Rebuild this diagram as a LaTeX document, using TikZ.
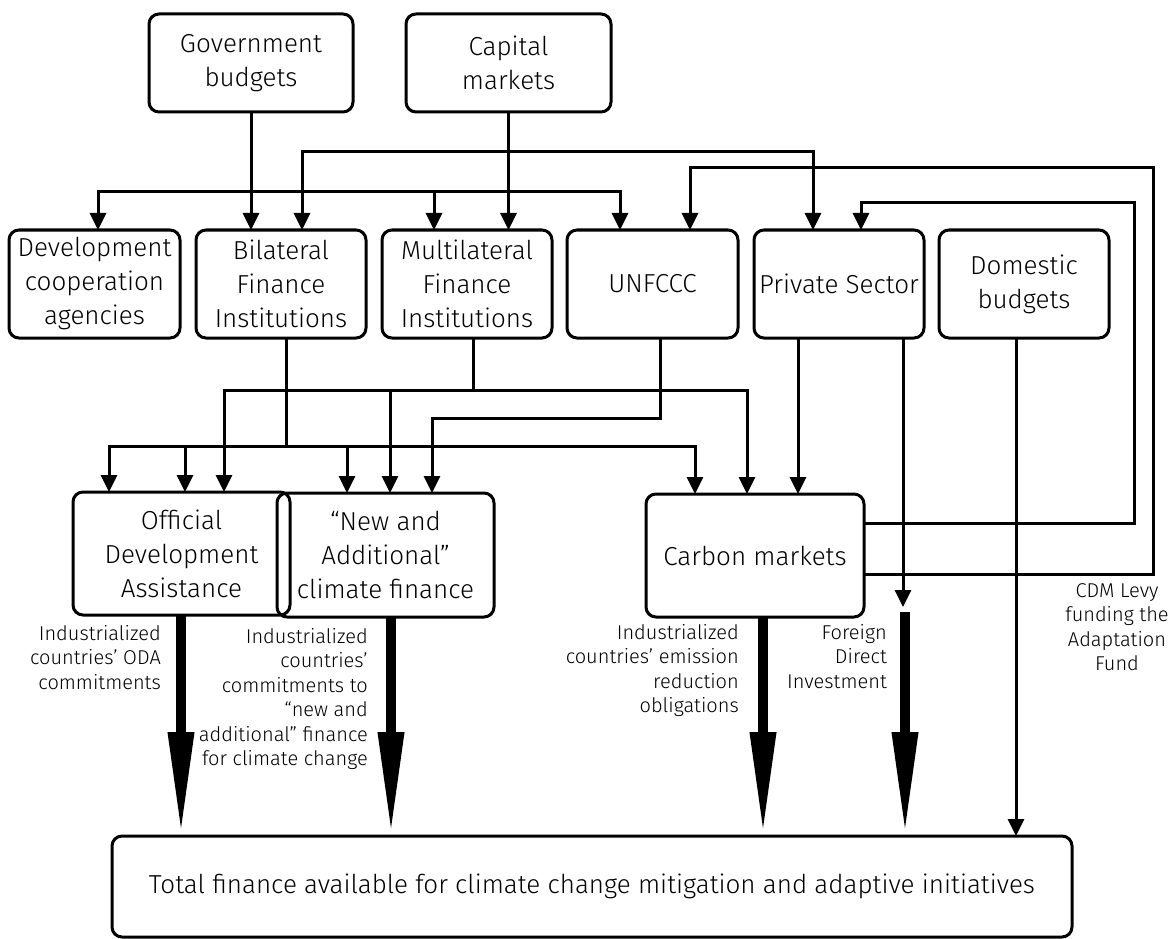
\documentclass[tikz,border=0pt]{standalone}
\usepackage{fontspec}
\setmainfont{Fira Sans Light}
\usetikzlibrary{arrows.meta,calc}
\tikzset{
  box/.style={draw, line width=3pt, rounded corners=10pt, inner sep=0pt, outer sep=0pt,
    align=center, font=\fontsize{26}{34}\selectfont},
  conn/.style={line width=3pt, -{Triangle[width=16pt,length=17pt]}},
  connboth/.style={line width=3pt, {Triangle[width=16pt,length=17pt]}-{Triangle[width=16pt,length=17pt]}},
  plain/.style={line width=3pt},
  big/.style={line width=10pt, -{Triangle[width=24pt,length=104pt]}},
  lab/.style={inner sep=0pt, font=\fontsize{20}{24.5}\selectfont},
}
\begin{document}
\begin{tikzpicture}[x=1pt,y=-1pt]
\useasboundingbox (0,0) rectangle (1171,939);
% top row
\node[box, minimum width=204pt, minimum height=98pt] (gov) at (251,63) {Government\\budgets};
\node[box, minimum width=205pt, minimum height=98pt] (cap) at (508.5,63) {Capital\\markets};
% second row
\node[box, minimum width=171pt, minimum height=108pt] (dev) at (94.5,284) {Development\\cooperation\\agencies};
\node[box, minimum width=170pt, minimum height=108pt] (bil) at (281,284) {Bilateral\\Finance\\Institutions};
\node[box, minimum width=170pt, minimum height=108pt] (mul) at (467,284) {Multilateral\\Finance\\Institutions};
\node[box, minimum width=171pt, minimum height=108pt] (unf) at (652.5,284) {UNFCCC};
\node[box, minimum width=170pt, minimum height=108pt] (pri) at (839,284) {Private Sector};
\node[box, minimum width=170pt, minimum height=108pt] (dom) at (1024,284) {Domestic\\budgets};
% third row
\node[box, minimum width=217pt, minimum height=123pt] (oda) at (181.5,553.5) {Official\\Development\\Assistance};
\node[box, minimum width=217pt, minimum height=124pt] (naf) at (385.5,555) {“New and\\Additional”\\climate finance};
\node[box, minimum width=218pt, minimum height=123pt] (car) at (755,555.5) {Carbon markets};
% bottom
\node[box, minimum width=960pt, minimum height=101pt] (tot) at (592,886.5) {Total finance available for climate change mitigation and adaptive initiatives};

% top connectors
\draw[conn] (gov.south) -- (gov.south |- bil.north);
\draw[conn] (cap.south) -- (cap.south |- mul.north);
\draw[connboth] ([xshift=21pt]bil.north) -- ++(0,-78) -| ([xshift=-26pt]pri.north);
\draw[connboth] ([xshift=3.5pt]dev.north) -- ++(0,-38) -| ([xshift=-32.5pt]unf.north);
\draw[conn] ([xshift=-33pt,yshift=38pt]mul.north) -- ([xshift=-33pt]mul.north);
% carbon markets feedback loops
\draw[conn] ([yshift=-18.5pt]car.east) -| (1153.5,168) -| ([xshift=37.5pt]unf.north);
\draw[conn] ([yshift=32.5pt]car.east) -| (1134,203) -| ([xshift=22pt]pri.north);

% bilateral bus (y=446)
\draw[plain] ([xshift=5pt]bil.south) -- ++(0,108);
\draw[connboth] ([xshift=-72.5pt]oda.north) -- ++(0,-46) -| ([xshift=-60pt]car.north);
\draw[conn] ([xshift=3.5pt,yshift=46pt]oda.north) -- ([xshift=3.5pt]oda.north);
\draw[conn] ([xshift=-38.5pt,yshift=47pt]naf.north) -- ([xshift=-38.5pt]naf.north);
% multilateral bus (y=390)
\draw[plain] ([xshift=6pt]mul.south) -- ++(0,51);
\draw[connboth] ([xshift=42.5pt]oda.north) -- ++(0,-102) -| ([xshift=-8pt]car.north);
\draw[conn] ([xshift=4.5pt,yshift=103pt]naf.north) -- ([xshift=4.5pt]naf.north);
% UNFCCC
\draw[conn] ([xshift=7.5pt]unf.south) |- (432,418) -- ([xshift=46.5pt]naf.north);
% private sector
\draw[conn] ([xshift=-41pt]pri.south) -- ([xshift=-41pt]pri.south |- car.north);
\coordinate (fdi) at (903,607);
\draw[conn] ([xshift=64pt]pri.south) -- (fdi);
% domestic
\draw[conn] ([xshift=-8pt]dom.south) -- ([xshift=-8pt]dom.south |- tot.north);

% big arrows
\draw[big] ([xshift=-0.5pt]oda.south) -- ([xshift=-0.5pt]oda.south |- tot.north);
\draw[big] ([xshift=5.5pt]naf.south) -- ([xshift=5.5pt]naf.south |- tot.north);
\draw[big] ([xshift=8pt]car.south) -- ([xshift=8pt]car.south |- tot.north);
\coordinate (fdib) at (905,612);
\draw[big] (fdib) -- (fdib |- tot.north);

% labels
\node[lab, anchor=north east, align=right] (l1) at (161,625) {Industrialized\\countries’ ODA\\commitments};
\node[lab, anchor=north east, align=right] (l2) at (368,628) {Industrialized\\countries’\\commitments to\\“new and\\additional” finance\\for climate change};
\node[lab, anchor=north east, align=right] (l3) at (739,624) {Industrialized\\countries’ emission\\reduction\\obligations};
\node[lab, anchor=north east, align=right] (l4) at (887,624) {Foreign\\Direct\\Investment};
\node[lab, anchor=north, align=center] (l5) at (1117,583) {CDM Levy\\funding the\\Adaptation\\Fund};
\end{tikzpicture}
\end{document}
